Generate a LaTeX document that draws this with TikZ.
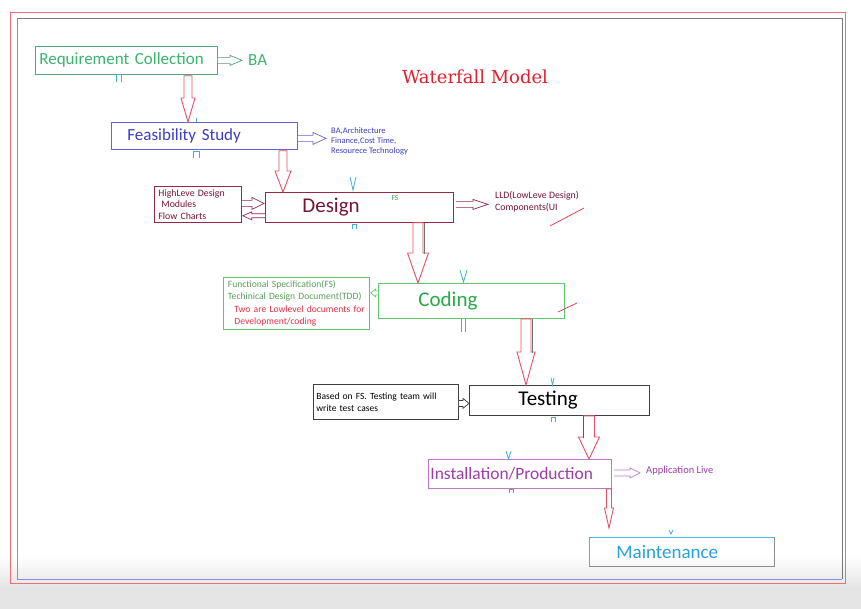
\documentclass[tikz,border=0pt]{standalone}
\usepackage{fontspec}
\setmainfont{Carlito}
\newfontfamily\titlefont{DejaVu Serif}
\usetikzlibrary{calc}
\definecolor{reqg}{RGB}{60,180,110}
\definecolor{reqb}{RGB}{80,170,120}
\definecolor{feast}{RGB}{60,60,200}
\definecolor{feasb}{RGB}{100,100,220}
\definecolor{dest}{RGB}{120,20,50}
\definecolor{desb}{RGB}{150,40,70}
\definecolor{codt}{RGB}{40,170,70}
\definecolor{codb}{RGB}{90,200,110}
\definecolor{fsg}{RGB}{90,160,90}
\definecolor{redtxt}{RGB}{230,50,70}
\definecolor{instt}{RGB}{160,60,170}
\definecolor{instb}{RGB}{190,120,200}
\definecolor{maintt}{RGB}{40,160,220}
\definecolor{maintb}{RGB}{60,190,230}
\definecolor{cyanc}{RGB}{70,170,230}
\definecolor{fatr}{RGB}{230,80,100}
\definecolor{titler}{RGB}{225,30,45}
\definecolor{frameo}{RGB}{235,110,120}
\definecolor{framei}{RGB}{140,140,230}
\definecolor{frameg}{RGB}{120,120,120}
\newcommand{\fsz}[2]{\fontsize{#1}{#2}\selectfont}
% down fat arrow: [style]{start}{end}{shaft half}{head half}{head length}
\newcommand{\downfat}[6][]{%
  \draw[fatred,#1] let \p1=(#2), \p2=(#3) in
    (\x1-#4pt,\y1) -- (\x1-#4pt,\y2+#6pt) -- (\x1-#5pt,\y2+#6pt) -- (\x1,\y2)
    -- (\x1+#5pt,\y2+#6pt) -- (\x1+#4pt,\y2+#6pt) -- (\x1+#4pt,\y1) -- cycle;}
% right hollow arrow
\newcommand{\rightfat}[6][]{%
  \draw[thinarr,#1] let \p1=(#2), \p2=(#3) in
    (\x1,\y1+#4pt) -- (\x2-#6pt,\y1+#4pt) -- (\x2-#6pt,\y1+#5pt) -- (\x2,\y1)
    -- (\x2-#6pt,\y1-#5pt) -- (\x2-#6pt,\y1-#4pt) -- (\x1,\y1-#4pt);}
% left hollow arrow
\newcommand{\leftfat}[6][]{%
  \draw[thinarr,#1] let \p1=(#2), \p2=(#3) in
    (\x1,\y1+#4pt) -- (\x2+#6pt,\y1+#4pt) -- (\x2+#6pt,\y1+#5pt) -- (\x2,\y1)
    -- (\x2+#6pt,\y1-#5pt) -- (\x2+#6pt,\y1-#4pt) -- (\x1,\y1-#4pt);}
\tikzset{
  box/.style={draw, rectangle, anchor=north west, align=left, inner ysep=0pt, line width=0.8pt},
  lbl/.style={inner sep=0pt, align=left},
  fatred/.style={draw=fatr, line width=0.9pt, fill=white},
  thinarr/.style={line width=0.7pt, fill=white},
  cyanmk/.style={draw=cyanc, line width=0.8pt},
  slash/.style={draw=redtxt, line width=0.7pt},
}
\begin{document}
\begin{tikzpicture}[x=1pt,y=-1pt]
\useasboundingbox (0,0) rectangle (861,609);
\fill[white] (0,0) rectangle (861,609);
\shade[top color=white, bottom color=black!10] (0,555) rectangle (861,588);
\fill[black!10] (0,588) rectangle (861,609);
% frames
\draw[frameo, line width=0.9pt] (10,12) rectangle (845,583);
\draw[framei, line width=0.9pt] (17,18) -- (17,579) -- (842,579);
\draw[frameg, line width=0.8pt] (17,18) -- (842,18) -- (842,579);

% title
\node[lbl, text=titler, font={\titlefont\fsz{18}{20}}] (title) at (475,77) {Waterfall Model};

% main boxes
\node[box, draw=reqb, text=reqg, minimum height=28pt, inner xsep=4pt, text width=174pt, font={\fsz{17}{20}}] (req) at (35,46) {Requirement Collection};
\node[box, draw=feasb, text=feast, minimum height=27pt, inner xsep=16pt, text width=154pt, font={\fsz{17}{20}}] (feas) at (111,122) {Feasibility Study};
\node[box, draw=desb, text=dest, minimum height=30pt, inner xsep=37pt, text width=114pt, font={\fsz{21}{24}}] (design) at (265,192) {Design};
\node[box, draw=codb, text=codt, minimum height=35pt, inner xsep=40pt, text width=106pt, font={\fsz{21}{24}}] (coding) at (378,283) {Coding};
\node[box, draw=black!75, text=black, minimum height=30pt, inner xsep=49pt, text width=82pt, font={\fsz{21}{24}}] (testing) at (469,385) {Testing};
\node[box, draw=instb, text=instt, minimum height=29pt, inner xsep=2pt, text width=179pt, font={\fsz{17.4}{20}}] (install) at (428,459) {Installation/Production};
\node[box, draw=maintb, text=maintt, minimum height=29pt, inner xsep=27pt, text width=131pt, font={\fsz{19}{22}}] (maint) at (589,537) {Maintenance};
\draw[black!45, line width=0.8pt] (maint.north east) -- (maint.south east) -- (maint.south west);

% side boxes
\node[box, draw=desb, text=dest, minimum height=36pt, inner xsep=4pt, text width=79pt, font={\fsz{9.8}{11.5}}] (hld) at (154,186) {HighLeve Design\\\hspace*{3pt}Modules\\Flow Charts};
\node[box, draw=codb, text=fsg, minimum height=52pt, inner xsep=3pt, text width=140pt, font={\fsz{9.6}{12}}] (fsbox) at (223,277) {\hspace*{1.5pt}Functional Specification(FS)\\\hspace*{1.5pt}Techinical Design Document(TDD)\\[1.5pt]\hspace*{8pt}\textcolor{redtxt}{Two are Lowlevel documents for}\\\hspace*{8pt}\textcolor{redtxt}{Development/coding}};
\node[box, draw=black!75, text=black, minimum height=35pt, inner xsep=3pt, text width=139pt, font={\fsz{9.5}{12}}] (tbox) at (313,384) {Based on FS. Testing team will\\write test cases};

% side labels
\node[lbl, anchor=west, text=reqg, font={\fsz{17}{20}}] (ba) at (248,60) {BA};
\node[lbl, anchor=west, text=feast, font={\fsz{8.5}{10.2}}] (feasnote) at (331,141.5) {BA,Architecture\\Finance,Cost Time,\\Resourece Technology};
\node[lbl, anchor=west, text=dest, font={\fsz{9.8}{12}}] (lld) at (495,202) {LLD(LowLeve Design)\\Components(UI};
\node[lbl, text=codt, font={\fsz{7.5}{8}}] (fs) at (395,198) {FS};
\node[lbl, anchor=west, text=instt, font={\fsz{10.5}{12}}] (applive) at (646,471) {Application Live};

% big red down arrows
\downfat{$(req.south west)+(153,1)$}{$(feas.north west)+(77,0)$}{4}{7}{24}
\downfat{$(feas.south west)+(172,1)$}{$(design.north west)+(18,0)$}{4}{8}{21}
\downfat{$(design.south west)+(153,0)$}{$(coding.north west)+(40,0)$}{5}{10.5}{30}
\draw[black!55, line width=0.8pt] ($(design.south west)+(159,0)$) -- ++(0,31);
\downfat{$(coding.south west)+(148,0)$}{$(testing.north west)+(57,0)$}{5}{9}{33}
\draw[black!55, line width=0.8pt] ($(coding.south west)+(154,0)$) -- ++(0,34);
\downfat{$(testing.south west)+(120,0)$}{$(install.north west)+(161,0)$}{5.5}{10.5}{22}
\draw[black!65, line width=0.8pt] ($(testing.south west)+(114,0)$) -- ++(0,22);
\downfat{$(install.south west)+(181,0)$}{$(maint.north west)+(20,-9)$}{2.5}{4.5}{20}

% small hollow arrows
\rightfat[draw=reqb!80!gray]{req.east}{$(ba.west)+(-6,0)$}{3}{5}{12}
\rightfat[draw=feasb]{$(feas.east)+(0,2.5)$}{$(feasnote.west)+(-5,0)$}{3}{6}{13}
\rightfat[draw=desb]{$(hld.east)+(0,-1)$}{$(design.west)+(-1,0)$}{3}{6}{12}
\leftfat[draw=desb]{$(design.south west)+(0,-7)$}{$(hld.east)+(1,0)$}{2}{4}{9}
\rightfat[draw=desb]{$(design.east)+(2,-3)$}{$(lld.west)+(-7,0)$}{3}{5}{15}
\leftfat[draw=codb]{$(coding.west)+(0,-8)$}{$(fsbox.east)+(1,0)$}{2}{4}{5}
\rightfat[draw=black!75]{$(tbox.east)+(0,1.5)$}{testing.west}{3}{5}{6}
\rightfat[draw=instb]{$(install.east)+(2,-1)$}{$(applive.west)+(-6,0)$}{3}{5}{10}

% red slashes
\draw[slash] (550,226) -- (584,208);
\draw[slash] (558,312) -- (577,303);

% cyan handle marks
\draw[cyanmk] (116,82) -- (116,74) -- (121,74) -- (121,82);
\draw[cyanmk] (196,118) -- (196,122);
\draw[cyanmk] (193,158) -- (193,151) -- (199,151) -- (199,158);
\draw[cyanmk] (350,177) -- (353,190) -- (356,177);
\draw[cyanmk] (352,229) -- (352,224) -- (356,224) -- (356,229);
\draw[cyanmk] (460,270) -- (463.5,282) -- (467,270);
\draw[cyanmk] (461,319) -- (461,332) (465,319) -- (465,332);
\draw[cyanmk] (551,378) -- (552.5,385) -- (554,378);
\draw[cyanmk] (551,422) -- (551,417) -- (555,417) -- (555,422);
\draw[cyanmk] (506,451) -- (508.5,459) -- (511,451);
\draw[cyanmk] (509,493) -- (509,489) -- (513,489) -- (513,493);
\draw[cyanmk] (669,530) -- (671,534) -- (673,530);
\end{tikzpicture}
\end{document}
